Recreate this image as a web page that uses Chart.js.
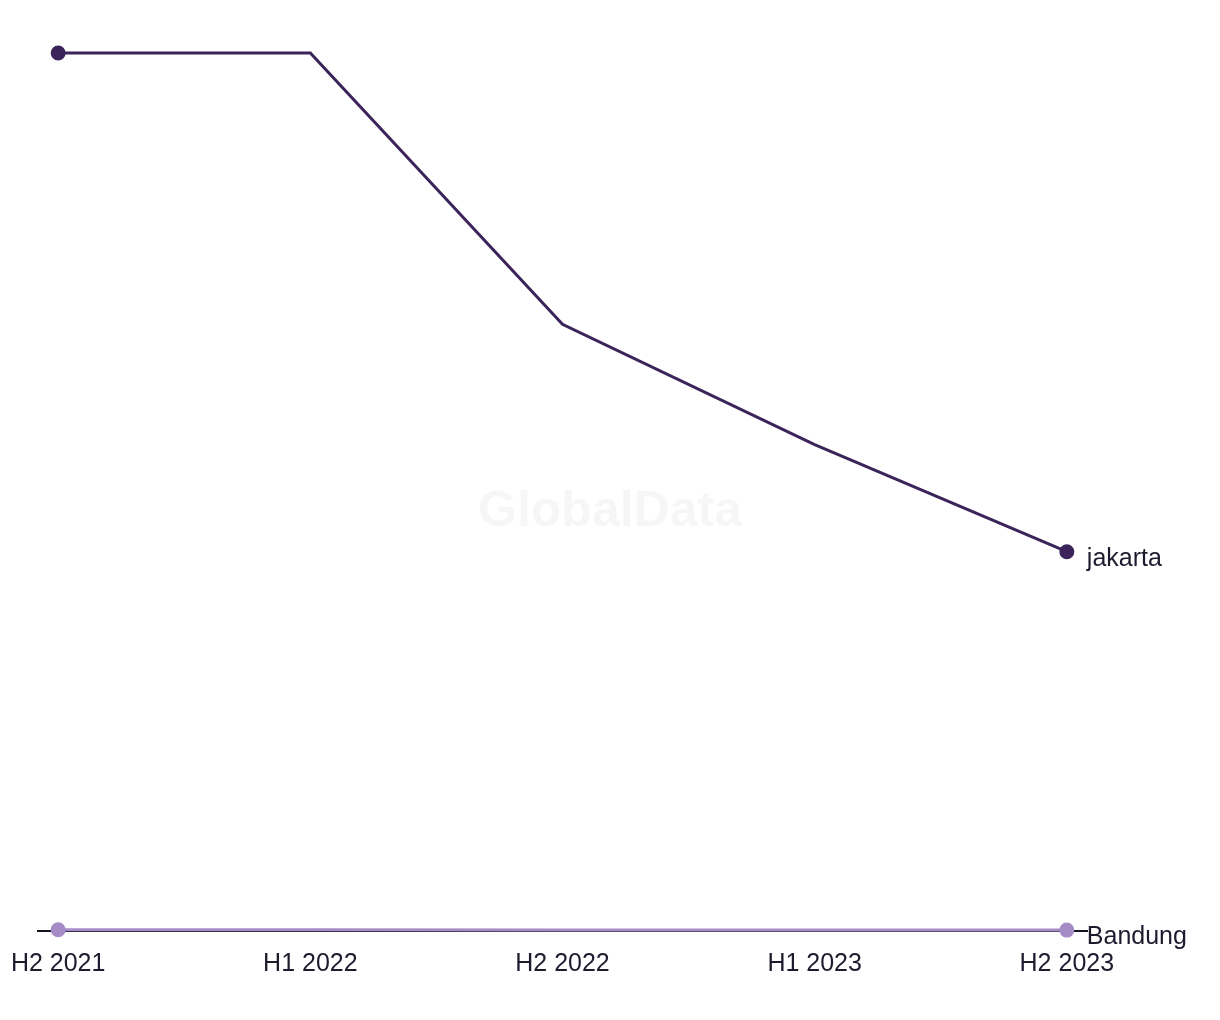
<!DOCTYPE html>
<html>
<head>
<meta charset="utf-8">
<script src="https://cdn.jsdelivr.net/npm/chart.js@4.4.1/dist/chart.umd.min.js"></script>
<style>
  html, body { margin: 0; padding: 0; background: #ffffff; }
  #wrap { width: 1220px; height: 1020px; }
</style>
</head>
<body>
<div id="wrap"><canvas id="lineChart" width="1220" height="1020"></canvas></div>
<script>
const periods = ["H2 2021", "H1 2022", "H2 2022", "H1 2023", "H2 2023"];
const jakarta = [100, 100, 69.1, 55.4, 43.2];
const bandung = [0.15, 0.14, 0.12, 0.1, 0.1];

const FONT = "'Liberation Sans', Arial, sans-serif";

const toPoints = (values) => values.map((v, i) => ({ x: i, y: v }));

// end-of-line series names + faint watermark
const decorations = {
  id: "decorations",
  beforeDatasetsDraw(chart) {
    const { ctx } = chart;
    ctx.save();
    ctx.font = "bold 50px " + FONT;
    ctx.fillStyle = "rgba(0, 0, 0, 0.035)";
    ctx.textAlign = "center";
    ctx.textBaseline = "middle";
    ctx.fillText("GlobalData", 610, 512);
    ctx.restore();
  },
  afterDatasetsDraw(chart) {
    const { ctx } = chart;
    ctx.save();
    ctx.font = "25px " + FONT;
    ctx.fillStyle = "#1e1b2e";
    ctx.textAlign = "left";
    ctx.textBaseline = "middle";
    chart.data.datasets.forEach((ds, i) => {
      const meta = chart.getDatasetMeta(i);
      const last = meta.data[meta.data.length - 1];
      ctx.fillText(ds.label, last.x + 20, last.y + 7);
    });
    ctx.restore();
  },
};

new Chart(document.getElementById("lineChart"), {
  type: "line",
  data: {
    datasets: [
      {
        label: "jakarta",
        data: toPoints(jakarta),
        borderColor: "#3a2459",
        backgroundColor: "#3a2459",
        borderWidth: 3,
        pointRadius: [6, 0, 0, 0, 6],
        pointHoverRadius: 6,
        tension: 0,
        clip: false,
      },
      {
        label: "Bandung",
        data: toPoints(bandung),
        borderColor: "#a58cc6",
        backgroundColor: "#a58cc6",
        borderWidth: 3,
        pointRadius: [6, 0, 0, 0, 6],
        pointHoverRadius: 6,
        tension: 0,
        clip: false,
      },
    ],
  },
  options: {
    responsive: false,
    animation: false,
    layout: {
      padding: { top: 53, left: 38, right: 133, bottom: 23 },
    },
    plugins: {
      legend: { display: false },
      tooltip: { enabled: false },
    },
    scales: {
      x: {
        type: "linear",
        min: -0.08,
        max: 4.08,
        grid: { display: false, drawTicks: false },
        border: { display: true, color: "#14121f", width: 2 },
        afterFit: (scale) => {
          // labels may hang past the plot edges
          scale.paddingLeft = 0;
          scale.paddingRight = 0;
        },
        ticks: {
          stepSize: 1,
          includeBounds: false,
          autoSkip: false,
          maxRotation: 0,
          padding: 18,
          color: "#1e1b2e",
          font: { family: FONT, size: 25 },
          callback: (value) => periods[value] ?? "",
        },
      },
      y: {
        display: false,
        min: 0,
        max: 100,
      },
    },
  },
  plugins: [decorations],
});
</script>
</body>
</html>
